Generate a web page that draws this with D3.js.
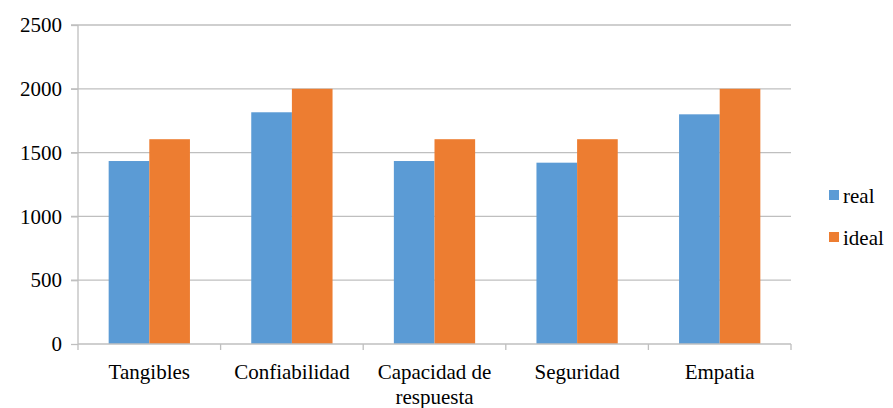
<!DOCTYPE html>
<html>
<head>
<meta charset="utf-8">
<script src="https://cdnjs.cloudflare.com/ajax/libs/d3/7.8.5/d3.min.js"></script>
<style>
  body { margin: 0; background: #fff; }
  svg text { font-family: "Liberation Serif", "DejaVu Serif", "Noto Serif", Georgia, serif !important; }
</style>
</head>
<body>
<svg width="893" height="408"></svg>
<script>
// chart data
var categories = ["Tangibles", "Confiabilidad", "Capacidad de respuesta", "Seguridad", "Empatia"];
var seriesNames = ["real", "ideal"];
var realValues = [1434, 1816, 1434, 1421, 1800];
var idealValues = [1605, 2000, 1605, 1605, 2000];
var yTicks = [0, 500, 1000, 1500, 2000, 2500];
var colors = ["#5B9BD5", "#ED7D31"];

var svg = d3.select("svg"),
    margin = {top: 25, right: 102, bottom: 64, left: 78},
    width = 893 - margin.left - margin.right,
    height = 408 - margin.top - margin.bottom,
    g = svg.append("g").attr("transform", "translate(" + margin.left + "," + margin.top + ")");

var x = d3.scaleBand().domain(categories).range([0, width]).paddingInner(0.43).paddingOuter(0.215);
var xs = d3.scaleBand().domain(seriesNames).range([0, x.bandwidth()]);
var y = d3.scaleLinear().domain([0, 2500]).range([height, 0]);

// gridlines
g.append("g").selectAll("line")
  .data(yTicks.filter(function(d) { return d > 0; }))
  .enter().append("line")
  .attr("x1", -7).attr("x2", width)
  .attr("y1", function(d) { return y(d); }).attr("y2", function(d) { return y(d); })
  .attr("stroke", "#bfbfbf").attr("stroke-width", 1.3);

// y axis
var yAxis = g.append("g")
  .call(d3.axisLeft(y).tickValues(yTicks).tickFormat(d3.format("d")).tickSize(7).tickPadding(9));
yAxis.attr("font-family", null).attr("font-size", null);
yAxis.select(".domain").attr("stroke", "#bfbfbf").attr("stroke-width", 1.3)
  .attr("d", "M0,0V" + (height + 6));
yAxis.selectAll(".tick line").attr("stroke", "#bfbfbf").attr("stroke-width", 1.3);
yAxis.selectAll(".tick text").style("font-size", "21px").attr("fill", "#000");

// bars
var rows = categories.map(function(c, i) { return {cat: c, vals: [realValues[i], idealValues[i]]}; });
var grp = g.append("g").selectAll("g").data(rows).enter().append("g")
  .attr("transform", function(d) { return "translate(" + x(d.cat) + ",0)"; });
grp.selectAll("rect")
  .data(function(d) { return d.vals.map(function(v, k) { return {name: seriesNames[k], v: v, k: k}; }); })
  .enter().append("rect")
  .attr("x", function(d) { return xs(d.name); })
  .attr("width", xs.bandwidth())
  .attr("y", function(d) { return y(d.v); })
  .attr("height", function(d) { return height - y(d.v); })
  .attr("fill", function(d) { return colors[d.k]; });

// x axis
var xa = g.append("g").attr("transform", "translate(0," + height + ")");
xa.append("line").attr("x1", 0).attr("x2", width).attr("y1", 0).attr("y2", 0)
  .attr("stroke", "#bfbfbf").attr("stroke-width", 1.3);
xa.selectAll("line.tk").data(d3.range(1, categories.length + 1)).enter().append("line")
  .attr("class", "tk")
  .attr("x1", function(i) { return i * width / categories.length; })
  .attr("x2", function(i) { return i * width / categories.length; })
  .attr("y1", 0).attr("y2", 6)
  .attr("stroke", "#bfbfbf").attr("stroke-width", 1.3);

var labelLines = {"Capacidad de respuesta": ["Capacidad de", "respuesta"]};
xa.selectAll("text.lbl").data(categories).enter().append("text")
  .attr("class", "lbl")
  .attr("text-anchor", "middle")
  .style("font-size", "21px")
  .each(function(d) {
    var lines = labelLines[d] || [d];
    var t = d3.select(this);
    lines.forEach(function(l, i) {
      t.append("tspan").attr("x", x(d) + x.bandwidth() / 2).attr("y", 35 + i * 25).text(l);
    });
  });

// legend
var lg = svg.append("g").attr("transform", "translate(829,190)");
seriesNames.forEach(function(s, i) {
  var row = lg.append("g").attr("transform", "translate(0," + (i * 42) + ")");
  row.append("rect").attr("width", 10).attr("height", 10).attr("y", 0).attr("fill", colors[i]);
  row.append("text").attr("x", 14).attr("y", 13).style("font-size", "21px").text(s);
});
</script>
</body>
</html>
